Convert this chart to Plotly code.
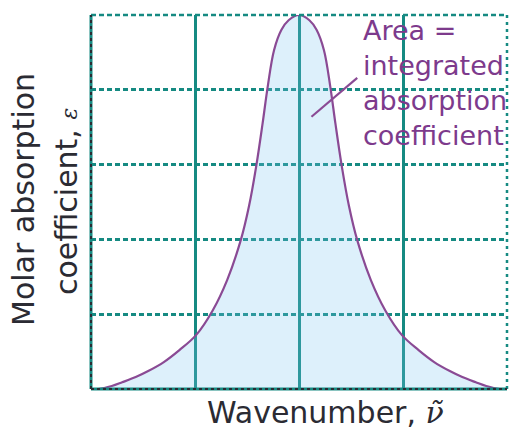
import plotly.graph_objects as go

# Absorption band: wavenumber (arbitrary units) vs molar absorption coefficient
wavenumber = [0.00, 0.07, 0.20, 0.30, 0.43, 0.55, 0.70, 0.85, 1.01, 1.17, 1.31,
              1.44, 1.52, 1.59, 1.65, 1.70, 1.76, 1.83, 1.90, 2.00, 2.10, 2.17,
              2.24, 2.30, 2.35, 2.41, 2.48, 2.56, 2.69, 2.83, 2.99, 3.15, 3.30,
              3.45, 3.57, 3.70, 3.80, 3.93, 4.00]
epsilon = [0.00, 0.00, 0.04, 0.09, 0.16, 0.24, 0.36, 0.52, 0.72, 1.05, 1.46,
           1.99, 2.45, 2.99, 3.55, 4.05, 4.53, 4.80, 4.93, 5.00, 4.93, 4.80,
           4.53, 4.05, 3.55, 2.99, 2.45, 1.99, 1.46, 1.05, 0.72, 0.52, 0.36,
           0.24, 0.16, 0.09, 0.04, 0.00, 0.00]

# Grid positions
wavenumber_grid = [1, 2, 3]
epsilon_grid = [1, 2, 3, 4]
x_range = [0, 4]
y_range = [0, 5]

# Callout text and the point inside the band it refers to
callout_text = "Area =<br>integrated<br>absorption<br>coefficient"
callout_target = (2.12, 3.64)
callout_anchor = (2.56, 4.16)

TEAL = "#168a82"
DARK = "#2b2b33"
PURPLE = "#8a4a94"
TEXT_PURPLE = "#7d3a8c"
FONT = "DejaVu Sans"

fig = go.Figure()

# Shaded band area
fig.add_trace(go.Scatter(
    x=wavenumber, y=epsilon, mode="lines",
    line=dict(color="rgba(0,0,0,0)", width=0, shape="spline", smoothing=1.0),
    fill="tozeroy", fillcolor="rgba(120,195,240,0.25)",
    hoverinfo="skip", showlegend=False,
))
# Band outline
fig.add_trace(go.Scatter(
    x=wavenumber, y=epsilon, mode="lines",
    line=dict(color=PURPLE, width=2.2, shape="spline", smoothing=1.0),
    showlegend=False,
))

fig.update_xaxes(
    range=x_range, tickvals=wavenumber_grid, showticklabels=False, ticks="",
    showgrid=True, gridcolor=TEAL, gridwidth=3,
    showline=False, zeroline=False, fixedrange=True,
)
fig.update_yaxes(
    range=y_range, tickvals=epsilon_grid, showticklabels=False, ticks="",
    showgrid=True, gridcolor=TEAL, gridwidth=2.5, griddash="5px,3px",
    showline=False, zeroline=False, fixedrange=True,
)

shapes = [
    # top and right edges: dotted teal
    dict(type="line", xref="paper", yref="paper", x0=0, x1=1, y0=1, y1=1,
         line=dict(color=TEAL, width=2.5, dash="5px,3px"), layer="above"),
    dict(type="line", xref="paper", yref="paper", x0=1, x1=1, y0=0, y1=1,
         line=dict(color=TEAL, width=2.5, dash="3px,4px"), layer="above"),
    # left and bottom axes: teal under dark dots
    dict(type="line", xref="paper", yref="paper", x0=0, x1=0, y0=0, y1=1,
         line=dict(color=TEAL, width=3), layer="above"),
    dict(type="line", xref="paper", yref="paper", x0=0, x1=1, y0=0, y1=0,
         line=dict(color=TEAL, width=3), layer="above"),
    dict(type="line", xref="paper", yref="paper", x0=0, x1=0, y0=0, y1=1,
         line=dict(color=DARK, width=2, dash="3px,3px"), layer="above"),
    dict(type="line", xref="paper", yref="paper", x0=0, x1=1, y0=0, y1=0,
         line=dict(color=DARK, width=2, dash="3px,3px"), layer="above"),
    # leader line from the callout into the band
    dict(type="line", xref="x", yref="y",
         x0=callout_target[0], y0=callout_target[1],
         x1=callout_anchor[0], y1=callout_anchor[1],
         line=dict(color=PURPLE, width=2.2), layer="above"),
]

annotations = [
    dict(
        text=callout_text, xref="paper", yref="paper",
        x=(361 - 91) / 416, y=(389 - 83) / 374,
        xanchor="left", yanchor="middle", align="left", showarrow=False,
        font=dict(family=FONT, size=27, color=TEXT_PURPLE),
    ),
    # Axis titles
    dict(
        text="Wavenumber, <span style=\"font-family:'DejaVu Serif'\"><i>ν̃</i></span>",
        xref="paper", yref="paper", x=(325 - 91) / 416, y=(389 - 412) / 374,
        xanchor="center", yanchor="middle", showarrow=False,
        font=dict(family=FONT, size=30, color=DARK),
    ),
    dict(
        text="Molar absorption",
        xref="paper", yref="paper", x=(23 - 91) / 416, y=(389 - 200) / 374,
        xanchor="center", yanchor="middle", textangle=-90, showarrow=False,
        font=dict(family=FONT, size=30, color=DARK),
    ),
    dict(
        text="coefficient, <span style=\"font-family:'DejaVu Serif'; font-size:22px\"><i>ε</i></span>",
        xref="paper", yref="paper", x=(66 - 91) / 416, y=(389 - 202) / 374,
        xanchor="center", yanchor="middle", textangle=-90, showarrow=False,
        font=dict(family=FONT, size=30, color=DARK),
    ),
]

fig.update_layout(
    width=529, height=432,
    margin=dict(l=91, r=22, t=15, b=43),
    paper_bgcolor="white", plot_bgcolor="white",
    shapes=shapes, annotations=annotations,
    showlegend=False,
)

fig.write_html("out.html", config={"displayModeBar": False})
